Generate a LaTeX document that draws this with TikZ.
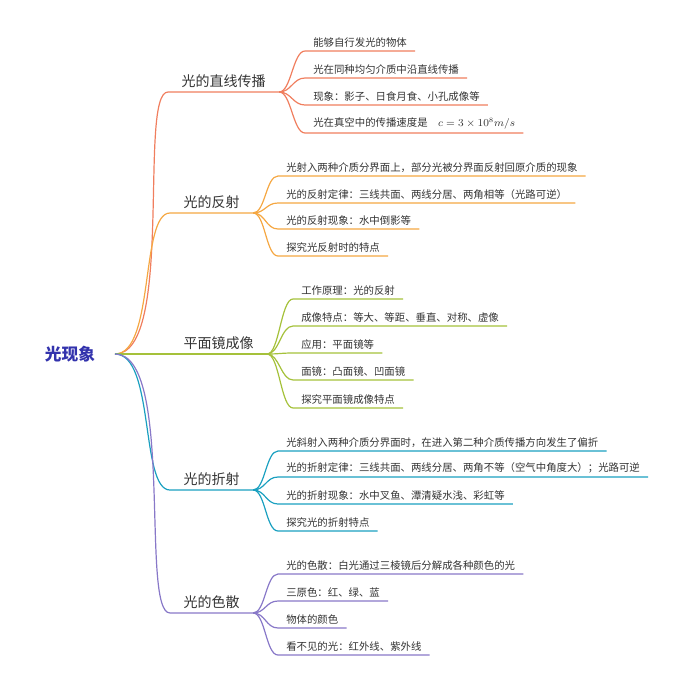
\documentclass[tikz,border=0pt]{standalone}
\usepackage{fontspec}
\setmainfont{Noto Sans CJK SC}
\begin{document}
\begin{tikzpicture}[x=0.75pt,y=-0.75pt,
  leaf/.style={anchor=south west,inner xsep=6pt,inner ysep=2.5pt,font=\fontsize{7.8}{9}\selectfont,text=black!80},
  br/.style={anchor=south west,inner xsep=10pt,inner ysep=3pt,font=\fontsize{10.5}{12}\selectfont,text=black!80},
  ln/.style={line width=0.9pt}]
\useasboundingbox (0,0) rectangle (683,687);
\definecolor{c1}{HTML}{F07E5E}\definecolor{c2}{HTML}{F5A742}\definecolor{c3}{HTML}{A5C13A}
\definecolor{c4}{HTML}{1AA0C0}\definecolor{c5}{HTML}{8878C8}
\node[font=\fontsize{12.5}{14}\bfseries\selectfont,text=blue!60!black!80] (root) at (70,354) {光现象};
\coordinate (r) at (115,354);
\node[br] (b1) at (168,92) {光的直线传播};
\node[br] (b2) at (170,213) {光的反射};
\node[br] (b3) at (170,354) {平面镜成像};
\node[br] (b4) at (170,490) {光的折射};
\node[br] (b5) at (170,613) {光的色散};
\foreach \b/\c/\d in {b1/c1/60,b2/c2/40,b3/c3/20,b4/c4/40,b5/c5/60}{
  \draw[ln,\c] (r) .. controls +(\d,0) and +(-30,0) .. (\b.south west) -- (\b.south east);
}
\node[leaf] (a1) at (305,51) {能够自行发光的物体};
\node[leaf] (a2) at (305,78) {光在同种均匀介质中沿直线传播};
\node[leaf] (a3) at (305,105) {现象：影子、日食月食、小孔成像等};
\node[leaf] (a4) at (305,133) {光在真空中的传播速度是\quad $c=3\times10^8m/s$};
\node[leaf] (e1) at (278,176) {光射入两种介质分界面上，部分光被分界面反射回原介质的现象};
\node[leaf] (e2) at (278,203) {光的反射定律：三线共面、两线分居、两角相等（光路可逆）};
\node[leaf] (e3) at (278,229) {光的反射现象：水中倒影等};
\node[leaf] (e4) at (278,256) {探究光反射时的特点};
\node[leaf] (p1) at (293,299) {工作原理：光的反射};
\node[leaf] (p2) at (293,326) {成像特点：等大、等距、垂直、对称、虚像};
\node[leaf] (p3) at (293,353) {应用：平面镜等};
\node[leaf] (p4) at (293,380) {面镜：凸面镜、凹面镜};
\node[leaf] (p5) at (293,408) {探究平面镜成像特点};
\node[leaf] (f1) at (278,451) {光斜射入两种介质分界面时，在进入第二种介质传播方向发生了偏折};
\node[leaf] (f2) at (278,477) {光的折射定律：三线共面、两线分居、两角不等（空气中角度大）；光路可逆};
\node[leaf] (f3) at (278,504) {光的折射现象：水中叉鱼、潭清疑水浅、彩虹等};
\node[leaf] (f4) at (278,531) {探究光的折射特点};
\node[leaf] (s1) at (278,574) {光的色散：白光通过三棱镜后分解成各种颜色的光};
\node[leaf] (s2) at (278,601) {三原色：红、绿、蓝};
\node[leaf] (s3) at (278,628) {物体的颜色};
\node[leaf] (s4) at (278,655) {看不见的光：红外线、紫外线};
\foreach \b/\c/\L in {b1/c1/{a1,a2,a3,a4},b2/c2/{e1,e2,e3,e4},b3/c3/{p1,p2,p3,p4,p5},b4/c4/{f1,f2,f3,f4},b5/c5/{s1,s2,s3,s4}}{
  \foreach \n in \L {
    \draw[ln,\c] (\b.south east) .. controls +(12,0) and +(-12,0) .. (\n.south west) -- (\n.south east);
  }
}
\end{tikzpicture}
\end{document}
